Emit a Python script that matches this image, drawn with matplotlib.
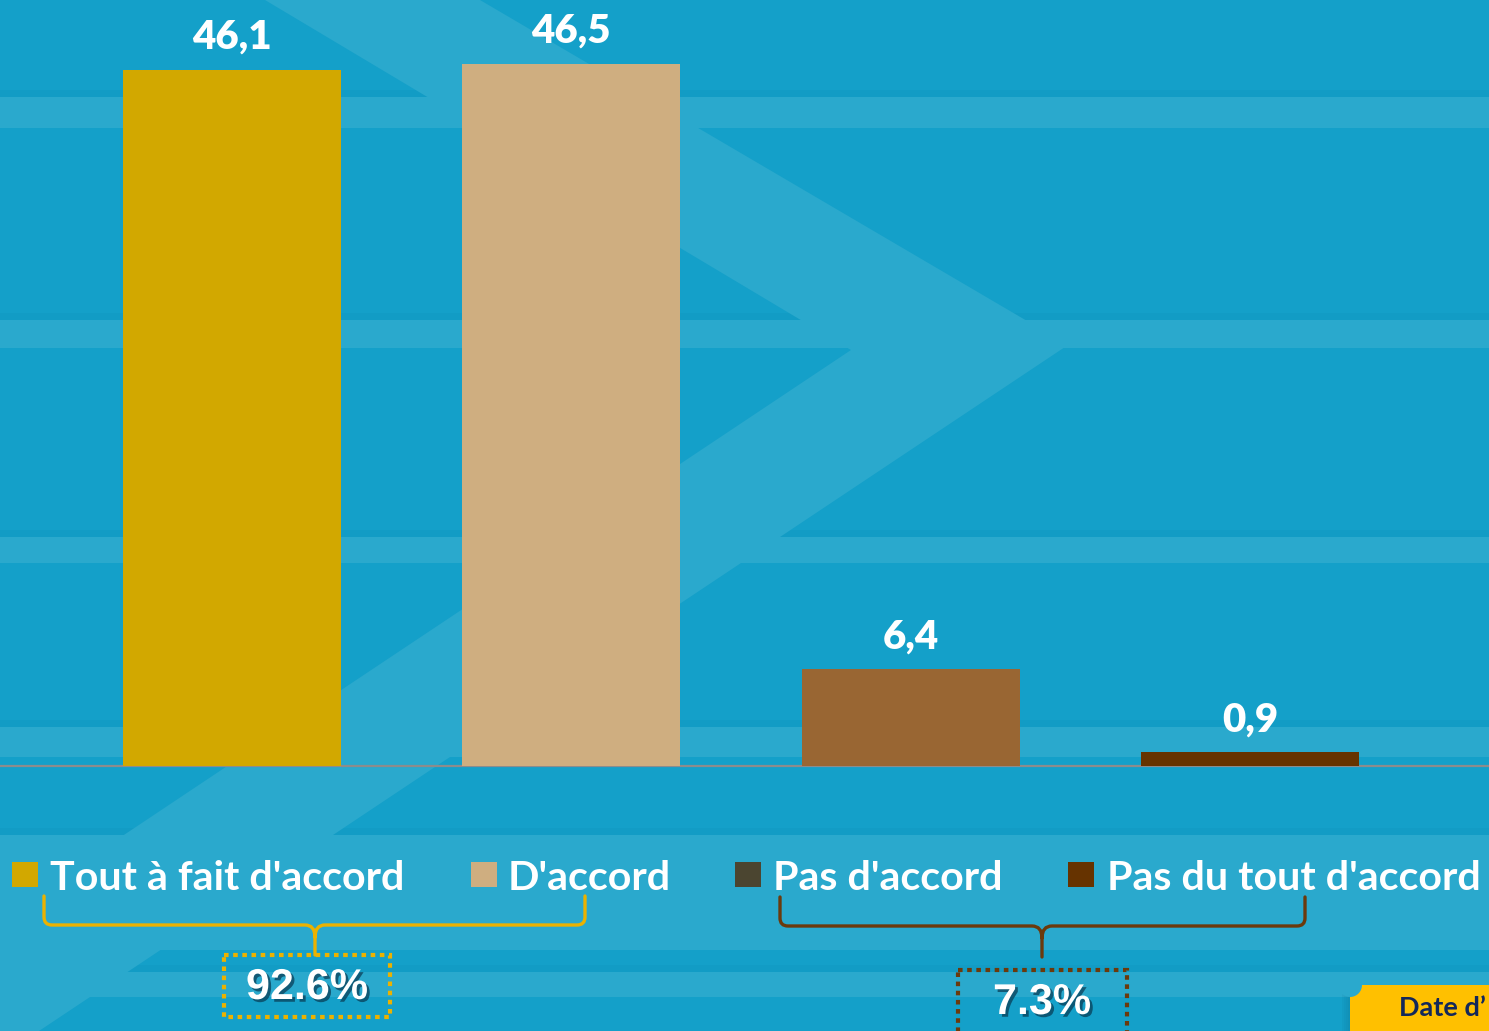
import matplotlib
matplotlib.use("Agg")
import matplotlib.pyplot as plt
from matplotlib.patches import Rectangle, Polygon, Circle, PathPatch
from matplotlib.path import Path
import matplotlib.patheffects as pe

# ---------------- data ----------------
categories = ["Tout à fait d'accord", "D'accord", "Pas d'accord", "Pas du tout d'accord"]
values = [46.1, 46.5, 6.4, 0.9]
value_labels = ["46,1", "46,5", "6,4", "0,9"]
bar_colors = ["#D2A800", "#CFAE80", "#996633", "#663300"]
legend_colors = ["#D2A800", "#CFAE80", "#4B4530", "#663300"]
group_labels = ["92.6%", "7.3%"]
group_colors = ["#EBB200", "#6B3A0C"]
footer_text = "Date d\u2019"

# ---------------- style ----------------
W, H = 1489, 1031
BG = "#14A0C9"
LIGHT = "#2AA9CD"
EDGE = "#1198C2"
FONT = ["Lato", "DejaVu Sans"]

fig = plt.figure(figsize=(W / 100, H / 100), dpi=100)
fig.patch.set_facecolor(BG)

# background decoration axes (pixel coordinates, y downward)
bg = fig.add_axes([0, 0, 1, 1])
bg.set_xlim(0, W)
bg.set_ylim(H, 0)
bg.axis("off")
bg.add_patch(Rectangle((0, 0), W, H, facecolor=BG, edgecolor="none", zorder=0))

# horizontal light stripes
stripes = [(97, 128), (320, 348), (537, 563), (727, 757), (835, 950), (972, 997)]
for y0, y1 in stripes:
    bg.add_patch(Rectangle((0, y0 - 7), W, 7, facecolor=EDGE, edgecolor="none", zorder=0.5, alpha=0.45))
    bg.add_patch(Rectangle((0, y0), W, y1 - y0, facecolor=LIGHT, edgecolor="none", zorder=1))

# chevron
chev = Polygon([(265, 0), (480, 0), (1068, 345), (39, 1031), (-170, 1031), (851, 350)],
               closed=True, facecolor=LIGHT, edgecolor="none", zorder=1)
bg.add_patch(chev)

# ---------------- bars ----------------
ax = fig.add_axes([0, 0, 1, 1])
ax.patch.set_alpha(0)
x_center0, x_step = 232, 339.3
px_per_unit = 15.1
base_px = 766
ax.set_xlim(-x_center0 / x_step, (W - x_center0) / x_step)
ax.set_ylim(-(H - base_px) / px_per_unit, base_px / px_per_unit)
ax.axis("off")

xs = list(range(len(values)))
bars = ax.bar(xs, values, width=0.6425, color=bar_colors, zorder=3)
ax.axhline(0, color="#8C8C8C", lw=1.6, zorder=2)
for b, lab in zip(bars, value_labels):
    ax.annotate(lab, (b.get_x() + b.get_width() / 2, b.get_height()),
                xytext=(0, 15), textcoords="offset points",
                ha="center", va="baseline", color="white",
                fontsize=29, fontweight="heavy", family=FONT, zorder=4)

# ---------------- legend ----------------
legend_sq_x = [12, 471, 735, 1068]
legend_tx_x = [50, 508, 773, 1107]
for c, lab, sx, tx in zip(legend_colors, categories, legend_sq_x, legend_tx_x):
    bg.add_patch(Rectangle((sx, 862), 26, 25, facecolor=c, edgecolor="none", zorder=3))
    bg.text(tx, 878, lab, ha="left", va="center", color="white",
            fontsize=29.7, fontweight="bold", family=FONT, zorder=4)

# ---------------- braces ----------------
def brace(x0, x1, xm, ytop, ymid, ytip, color):
    r = 8
    verts = [(x0, ytop), (x0, ymid - r), (x0, ymid), (x0 + r, ymid),
             (xm - 10, ymid), (xm, ymid), (xm, ymid + 12), (xm, ytip),
             (xm, ymid + 12), (xm, ymid), (xm + 10, ymid),
             (x1 - r, ymid), (x1, ymid), (x1, ymid - r), (x1, ytop)]
    codes = [Path.MOVETO, Path.LINETO, Path.CURVE3, Path.CURVE3,
             Path.LINETO, Path.CURVE3, Path.CURVE3, Path.LINETO,
             Path.MOVETO, Path.CURVE3, Path.CURVE3,
             Path.LINETO, Path.CURVE3, Path.CURVE3, Path.LINETO]
    bg.add_patch(PathPatch(Path(verts, codes), facecolor="none", edgecolor=color,
                           lw=2.4, zorder=3, capstyle="round", joinstyle="round"))

brace(44, 585, 315, 896, 925, 955, group_colors[0])
brace(780, 1305, 1042, 897, 926, 957, group_colors[1])

# ---------------- group totals ----------------
boxes = [(224, 955, 166, 62), (958, 970, 169, 70)]
centers = [(307, 988), (1042, 1003)]
for (bx, by, bw, bh), (cx, cy), lab, col in zip(boxes, centers, group_labels, group_colors):
    bg.add_patch(Rectangle((bx, by), bw, bh, facecolor="none", edgecolor=col,
                           lw=3, linestyle=(0, (1.1, 1.1)), zorder=3))
    bg.text(cx, cy, lab, ha="center", va="center", color="white",
            fontsize=31, fontweight="bold", family=["Liberation Sans", "DejaVu Sans"], zorder=4,
            path_effects=[pe.SimplePatchShadow(offset=(2, -2), shadow_rgbFace="#083850", alpha=0.7),
                          pe.Normal()])

# ---------------- footer box ----------------
for i, a in enumerate([0.06, 0.1, 0.14, 0.18]):
    bg.add_patch(Rectangle((1342 + 2 * i, 990), 2, 45, facecolor="#06506A", edgecolor="none",
                           alpha=a, zorder=3))
bg.add_patch(Rectangle((1350, 985), 150, 50, facecolor="#FFC000", edgecolor="none", zorder=4))
bg.add_patch(Circle((1350, 985), 12, facecolor=LIGHT, edgecolor="none", zorder=5))
bg.text(1399, 1008, footer_text, ha="left", va="center", color="#14285A",
        fontsize=19.5, fontweight="bold", family=FONT, zorder=6)

fig.savefig("out.png", dpi=100, facecolor=BG)
